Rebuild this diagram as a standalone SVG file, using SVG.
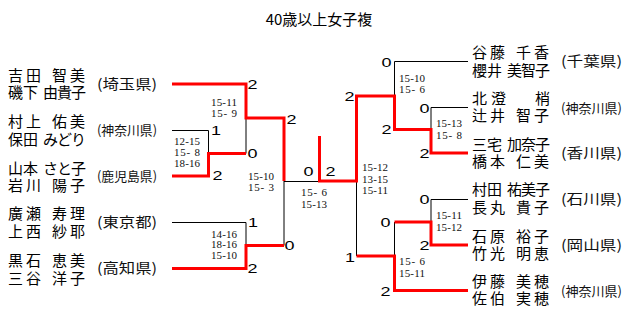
<svg xmlns="http://www.w3.org/2000/svg" width="640" height="333" viewBox="0 0 640 333">
<style>
.nm{font-family:"Noto Sans CJK JP","Noto Sans CJK SC",sans-serif;font-size:15px;fill:#000}
.pf{font-family:"Noto Sans CJK JP","Noto Sans CJK SC",sans-serif;font-size:14px;fill:#111}
.pf4{font-size:13px}
.sc{font-family:"Liberation Serif","Times New Roman",serif;font-size:11px;fill:#111}
.bg{font-family:"Liberation Sans",Arial,sans-serif;font-size:12.5px;fill:#000}
.ttl{font-family:"Noto Sans CJK JP","Noto Sans CJK SC",sans-serif;font-size:15px;fill:#000}
.bk{fill:none;stroke:#000;stroke-width:1}
.rd{fill:none;stroke:#ff0000;stroke-width:3;stroke-linejoin:miter;stroke-linecap:butt}
</style>
<rect width="640" height="333" fill="#fff"/>
<text class="ttl" x="319" y="24.5" text-anchor="middle">40歳以上女子複</text>

<g id="connectors">
<path class="bk" d="M172,130.5 H208.5 V153.5 M246,118 V153.5 M284,181.5 H319.5 M284,181 V245.5 M172,222.5 H246 V245.5 M356.5,181 V256 M394.5,96 V61.5 H468 M431,129.5 V107.5 H468 M394.5,256 V222 M431,222 V199.5 H468"/>
<path class="rd" d="M172,84 H246 V118 H284 V181"/>
<path class="rd" d="M172,176 H208.5 V153.5 H246"/>
<path class="rd" d="M172,268.5 H246 V245.5 H284"/>
<path class="rd" d="M319.5,136 V181 H356.5 V96 H394.5 V129.5 H431 V153 H468"/>
<path class="rd" d="M356.5,256 H394.5 V290.5 H468"/>
<path class="rd" d="M394.5,222 H431 V245 H468"/>
</g>

<g id="team-L1">
<text class="nm"><tspan x="8 26 40 52 70" y="81">吉田 智美</tspan><tspan x="8 23 37 43 57 71" y="98">磯下 由貴子</tspan></text>
<text class="pf" x="97" y="89" textLength="60" lengthAdjust="spacingAndGlyphs">(埼玉県)</text>
</g>
<g id="team-L2">
<text class="nm"><tspan x="8 26 40 52 70" y="127">村上 佑美</tspan><tspan x="8 23 37 43 57 71" y="145">保田 みどり</tspan></text>
<text class="pf pf4" x="97" y="135" textLength="60" lengthAdjust="spacingAndGlyphs">(神奈川県)</text>
</g>
<g id="team-L3">
<text class="nm"><tspan x="8 23 37 43 57 71" y="173.5">山本 さと子</tspan><tspan x="8 26 40 52 70" y="191">岩川 陽子</tspan></text>
<text class="pf pf4" x="97" y="181" textLength="60" lengthAdjust="spacingAndGlyphs">(鹿児島県)</text>
</g>
<g id="team-L4">
<text class="nm"><tspan x="8 26 40 52 70" y="219">廣瀬 寿理</tspan><tspan x="8 26 40 52 70" y="237">上西 紗耶</tspan></text>
<text class="pf" x="97" y="227" textLength="60" lengthAdjust="spacingAndGlyphs">(東京都)</text>
</g>
<g id="team-L5">
<text class="nm"><tspan x="8 26 40 52 70" y="265.5">黒石 恵美</tspan><tspan x="8 26 40 52 70" y="283.5">三谷 洋子</tspan></text>
<text class="pf" x="97" y="273" textLength="60" lengthAdjust="spacingAndGlyphs">(高知県)</text>
</g>

<g id="team-R1">
<text class="nm"><tspan x="472 490 504 516 534" y="57.5">谷藤 千香</tspan><tspan x="472 487 501 507 521 535" y="75.5">櫻井 美智子</tspan></text>
<text class="pf" x="561" y="66" textLength="61" lengthAdjust="spacingAndGlyphs">(千葉県)</text>
</g>
<g id="team-R2">
<text class="nm"><tspan x="472 487 491 506 535" y="103.5">北 澄 梢</tspan><tspan x="472 490 504 516 534" y="120.5">辻井 智子</tspan></text>
<text class="pf pf4" x="561" y="112.5" textLength="61" lengthAdjust="spacingAndGlyphs">(神奈川県)</text>
</g>
<g id="team-R3">
<text class="nm"><tspan x="472 487 501 507 521 535" y="149.5">三宅 加奈子</tspan><tspan x="472 490 504 516 534" y="166.5">橋本 仁美</tspan></text>
<text class="pf" x="561" y="157.5" textLength="61" lengthAdjust="spacingAndGlyphs">(香川県)</text>
</g>
<g id="team-R4">
<text class="nm"><tspan x="472 487 501 507 521 535" y="194.5">村田 祐美子</tspan><tspan x="472 490 504 516 534" y="212.5">長丸 貴子</tspan></text>
<text class="pf" x="561" y="204" textLength="61" lengthAdjust="spacingAndGlyphs">(石川県)</text>
</g>
<g id="team-R5">
<text class="nm"><tspan x="472 490 504 516 534" y="241.5">石原 裕子</tspan><tspan x="472 490 504 516 534" y="258.5">竹光 明恵</tspan></text>
<text class="pf" x="561" y="249.5" textLength="61" lengthAdjust="spacingAndGlyphs">(岡山県)</text>
</g>
<g id="team-R6">
<text class="nm"><tspan x="472 490 504 516 534" y="286.5">伊藤 美穂</tspan><tspan x="472 490 504 516 534" y="303.5">佐伯 実穂</tspan></text>
<text class="pf pf4" x="561" y="296" textLength="61" lengthAdjust="spacingAndGlyphs">(神奈川県)</text>
</g>

<g id="set-scores">
<text class="sc" x="211" y="106.2" textLength="26" lengthAdjust="spacing">15-11</text>
<text class="sc" x="211" y="116.7" textLength="26" lengthAdjust="spacing">15- 9</text>
<text class="sc" x="174" y="145.2" textLength="26" lengthAdjust="spacing">12-15</text>
<text class="sc" x="174" y="156.2" textLength="26" lengthAdjust="spacing">15- 8</text>
<text class="sc" x="174" y="166.7" textLength="26" lengthAdjust="spacing">18-16</text>
<text class="sc" x="248" y="180.2" textLength="26" lengthAdjust="spacing">15-10</text>
<text class="sc" x="248" y="190.7" textLength="26" lengthAdjust="spacing">15- 3</text>
<text class="sc" x="211" y="237.7" textLength="26" lengthAdjust="spacing">14-16</text>
<text class="sc" x="211" y="248.2" textLength="26" lengthAdjust="spacing">18-16</text>
<text class="sc" x="211" y="259.2" textLength="26" lengthAdjust="spacing">15-10</text>
<text class="sc" x="301" y="195.7" textLength="26" lengthAdjust="spacing">15- 6</text>
<text class="sc" x="301" y="207.7" textLength="26" lengthAdjust="spacing">15-13</text>
<text class="sc" x="362" y="171.2" textLength="26" lengthAdjust="spacing">15-12</text>
<text class="sc" x="362" y="182.7" textLength="26" lengthAdjust="spacing">13-15</text>
<text class="sc" x="362" y="193.7" textLength="26" lengthAdjust="spacing">15-11</text>
<text class="sc" x="399" y="82.2" textLength="26" lengthAdjust="spacing">15-10</text>
<text class="sc" x="399" y="93.2" textLength="26" lengthAdjust="spacing">15- 6</text>
<text class="sc" x="436" y="126.7" textLength="26" lengthAdjust="spacing">15-13</text>
<text class="sc" x="436" y="138.7" textLength="26" lengthAdjust="spacing">15- 8</text>
<text class="sc" x="436" y="219.2" textLength="26" lengthAdjust="spacing">15-11</text>
<text class="sc" x="436" y="231.2" textLength="26" lengthAdjust="spacing">15-12</text>
<text class="sc" x="399" y="264.7" textLength="26" lengthAdjust="spacing">15- 6</text>
<text class="sc" x="399" y="276.7" textLength="26" lengthAdjust="spacing">15-11</text>
</g>

<g id="match-scores">
<text class="bg" x="247.5" y="89" textLength="10" lengthAdjust="spacingAndGlyphs">2</text>
<text class="bg" x="211" y="135" textLength="10" lengthAdjust="spacingAndGlyphs">1</text>
<text class="bg" x="212.5" y="180" textLength="10" lengthAdjust="spacingAndGlyphs">2</text>
<text class="bg" x="247.5" y="157.5" textLength="10" lengthAdjust="spacingAndGlyphs">0</text>
<text class="bg" x="286.5" y="123.5" textLength="10" lengthAdjust="spacingAndGlyphs">2</text>
<text class="bg" x="248" y="226.5" textLength="10" lengthAdjust="spacingAndGlyphs">1</text>
<text class="bg" x="247.5" y="272.5" textLength="10" lengthAdjust="spacingAndGlyphs">2</text>
<text class="bg" x="284.5" y="249.5" textLength="10" lengthAdjust="spacingAndGlyphs">0</text>
<text class="bg" x="303.5" y="175.5" textLength="10" lengthAdjust="spacingAndGlyphs">0</text>
<text class="bg" x="325.5" y="175.5" textLength="10" lengthAdjust="spacingAndGlyphs">2</text>
<text class="bg" x="344.5" y="101" textLength="10" lengthAdjust="spacingAndGlyphs">2</text>
<text class="bg" x="381.5" y="66.5" textLength="10" lengthAdjust="spacingAndGlyphs">0</text>
<text class="bg" x="381.5" y="133.5" textLength="10" lengthAdjust="spacingAndGlyphs">2</text>
<text class="bg" x="419.5" y="112.5" textLength="10" lengthAdjust="spacingAndGlyphs">0</text>
<text class="bg" x="419.5" y="157.5" textLength="10" lengthAdjust="spacingAndGlyphs">2</text>
<text class="bg" x="345" y="261.5" textLength="10" lengthAdjust="spacingAndGlyphs">1</text>
<text class="bg" x="380.5" y="226.5" textLength="10" lengthAdjust="spacingAndGlyphs">0</text>
<text class="bg" x="380.5" y="295.5" textLength="10" lengthAdjust="spacingAndGlyphs">2</text>
<text class="bg" x="419.5" y="203.5" textLength="10" lengthAdjust="spacingAndGlyphs">0</text>
<text class="bg" x="419.5" y="249.5" textLength="10" lengthAdjust="spacingAndGlyphs">2</text>
</g>
</svg>
